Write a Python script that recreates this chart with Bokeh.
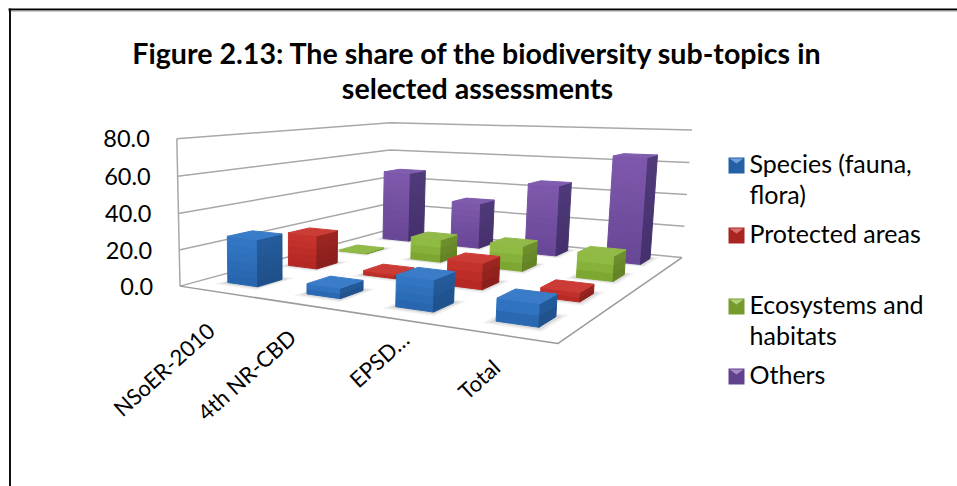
import numpy as np
from bokeh.plotting import figure
from bokeh.models import Range1d, ColumnDataSource
from bokeh.core.properties import value
from bokeh.embed import file_html
from bokeh.resources import INLINE

# ---- data -------------------------------------------------------------
categories = ["NSoER-2010", "4th NR-CBD", "EPSD…", "Total"]
series_names = ["Species (fauna, flora)", "Protected areas", "Ecosystems and habitats", "Others"]
species = [26.0, 5.5, 16.0, 11.0]
protected = [20.0, 2.5, 14.5, 5.0]
ecosystems = [0.5, 14.0, 15.0, 14.5]
others = [47.5, 30.0, 45.0, 65.0]
series_values = [species, protected, ecosystems, others]
y_ticks = [0, 20, 40, 60, 80]
y_tick_labels = ["0.0", "20.0", "40.0", "60.0", "80.0"]

# ---- camera: world (u, v, w) on the unit box -> page pixels ---------
box = [((0, 0, 0), (182, 285)), ((1, 0, 0), (557, 344)), ((0, 1, 0), (385, 230)),
       ((1, 1, 0), (683, 256)), ((0, 0, 1), (174, 138)), ((0, 1, 1), (393, 122)),
       ((1, 1, 1), (690, 130))]
A = []
for (u, v, w), (x, y) in box:
    A.append([u, v, w, 1, 0, 0, 0, 0, -x*u, -x*v, -x*w, -x])
    A.append([0, 0, 0, 0, u, v, w, 1, -y*u, -y*v, -y*w, -y])
P = np.linalg.svd(np.array(A, float))[2][-1].reshape(3, 4)


def proj(u, v, val=0.0):
    h = P @ np.array([u, v, val/80.0, 1.0])
    return h[0]/h[2], h[1]/h[2]


def lerp(c1, c2, t):
    return "#%02x%02x%02x" % tuple(int(round(a+(b-a)*t)) for a, b in zip(c1, c2))


# colours: front top, front bottom, side top, side bottom, roof
styles = [
    ((52, 120, 198), (38, 100, 172), (36, 92, 156), (30, 80, 138), (58, 124, 200)),
    ((200, 52, 46), (178, 38, 34), (158, 38, 34), (136, 30, 28), (204, 60, 54)),
    ((148, 192, 70), (122, 162, 46), (112, 146, 44), (96, 128, 36), (146, 186, 72)),
    ((126, 88, 172), (104, 70, 150), (80, 58, 122), (68, 48, 108), (128, 92, 174)),
]
BAR = 0.39
V_SHIFT = 0.015
N = len(categories)
xs, ys, cols = [], [], []
sx, sy, sc, sa = [], [], [], []


def poly(pts, col):
    xs.append([a[0] for a in pts])
    ys.append([a[1] for a in pts])
    cols.append(col)


def face(a, b, top, c1, c2, strips):
    # a, b: (u, v) ends of the vertical face
    for k in range(strips-1, -1, -1):
        h1 = top*(1-k/strips)
        h2 = top*(1-(k+1)/strips)
        col = lerp(c1, c2, (k+.5)/strips)
        poly([proj(*a, h1), proj(*b, h1), proj(*b, h2), proj(*a, h2)], col)


for j in range(N-1, -1, -1):
    for i in range(N-1, -1, -1):
        val = series_values[j][i]
        u0, u1 = (i+.5-BAR/2)/N, (i+.5+BAR/2)/N
        v0, v1 = (j+.5-BAR/2)/N+V_SHIFT, (j+.5+BAR/2)/N+V_SHIFT
        # soft floor shadow
        for grow, al in ((.018, .08), (.010, .12)):
            pts = [proj(u0-grow, v0-grow*1.6), proj(u1+grow, v0-grow*1.6),
                   proj(u1+grow, v1+grow*1.6), proj(u0-grow, v1+grow*1.6)]
            sx.append([a[0] for a in pts])
            sy.append([a[1] for a in pts])
            sc.append("#404040")
            sa.append(al)
        ft, fb, st, sb, rf = styles[j]
        strips = max(2, int(val/4))
        face((u0, v0), (u1, v0), val, ft, fb, strips)
        face((u1, v0), (u1, v1), val, st, sb, strips)
        poly([proj(u0, v0, val), proj(u1, v0, val), proj(u1, v1, val), proj(u0, v1, val)], lerp(rf, rf, 0))

# ---- figure: data units equal page pixels ----------------------------
p = figure(width=957, height=486, x_range=Range1d(0, 957), y_range=Range1d(486, 0),
           toolbar_location=None, output_backend="svg", min_border=0)
p.axis.visible = False
p.grid.visible = False
p.outline_line_color = None
p.background_fill_color = "white"

# outer frame
p.line([8, 957], [9, 9], line_color="#000000", line_width=2)
p.line([8, 957], [10.5, 10.5], line_color="#999999", line_width=1)
p.line([9.5, 9.5], [8, 486], line_color="#111111", line_width=2)

# walls and floor
WALL = "#a8a8a8"
for t in y_ticks:
    pts = [proj(0, 0, t), proj(0, 1, t), proj(1, 1, t)]
    p.line([a[0] for a in pts], [a[1] for a in pts], line_color=WALL, line_width=1.5)
pts = [proj(0, 0, 0), proj(0, 0, 80)]
p.line([a[0] for a in pts], [a[1] for a in pts], line_color=WALL, line_width=1.5)
pts = [proj(0, 0, 0), proj(1, 0, 0), proj(1, 1, 0)]
p.line([a[0] for a in pts], [a[1] for a in pts], line_color="#9a9a9a", line_width=1.5)

p.patches(xs="xs", ys="ys", fill_color="c", fill_alpha="a", line_color=None,
          source=ColumnDataSource(dict(xs=sx, ys=sy, c=sc, a=sa)))
p.patches(xs="xs", ys="ys", fill_color="c", line_color="c", line_width=1,
          source=ColumnDataSource(dict(xs=xs, ys=ys, c=cols)))

FONT = "Lato"
# title
p.text(x=[477, 477], y=[52, 87],
       text=["Figure 2.13: The share of the biodiversity sub-topics in", "selected assessments"],
       text_font=value(FONT), text_font_style="bold", text_font_size="28.6px",
       text_align="center", text_baseline="middle", text_color="#000000")

# value axis labels
tx = [proj(0, 0, t)[0]-27 for t in y_ticks]
ty = [proj(0, 0, t)[1] for t in y_ticks]
p.text(x=tx, y=ty, text=y_tick_labels, text_font=value(FONT), text_font_size="23.5px",
       text_align="right", text_baseline="middle", text_color="#000000")

# category labels, each a small shift away from its floor position
label_dx = [-7, -8, 12, -3]
label_dy = [35, 29, 17, 29]
cx, cy = [], []
for i in range(N):
    a = proj((i+.5)/N, 0)
    cx.append(a[0]+label_dx[i])
    cy.append(a[1]+label_dy[i])
p.text(x=cx, y=cy, text=categories, text_font=value(FONT), text_font_size="22px",
       text_align="right", text_baseline="middle", angle=np.radians(42), text_color="#000000")

# legend
legend_rows = [["Species (fauna,", "flora)"], ["Protected areas"], ["Ecosystems and", "habitats"], ["Others"]]
legend_top = [157, 227, 298, 368]
SW = 16
lx, ly, lc = [], [], []
for top, st in zip(legend_top, styles):
    lx.append([728, 728+SW, 728+SW, 728])
    ly.append([top, top, top+SW, top+SW])
    lc.append(lerp(st[1], st[3], .2))
    lx.append([729, 728+SW-1, 728+SW/2])
    ly.append([top+1, top+1, top+6])
    lc.append(lerp(st[0], (255, 255, 255), .3))
p.patches(xs="xs", ys="ys", fill_color="c", line_color=None,
          source=ColumnDataSource(dict(xs=lx, ys=ly, c=lc)))
tx2, ty2, tt2 = [], [], []
for top, row in zip(legend_top, legend_rows):
    for k, line in enumerate(row):
        tx2.append(749)
        ty2.append(top+5+k*31.5)
        tt2.append(line)
p.text(x=tx2, y=ty2, text=tt2, text_font=value(FONT), text_font_size="25px",
       text_align="left", text_baseline="middle", text_color="#000000")

open("out.html", "w").write(file_html(p, INLINE))
